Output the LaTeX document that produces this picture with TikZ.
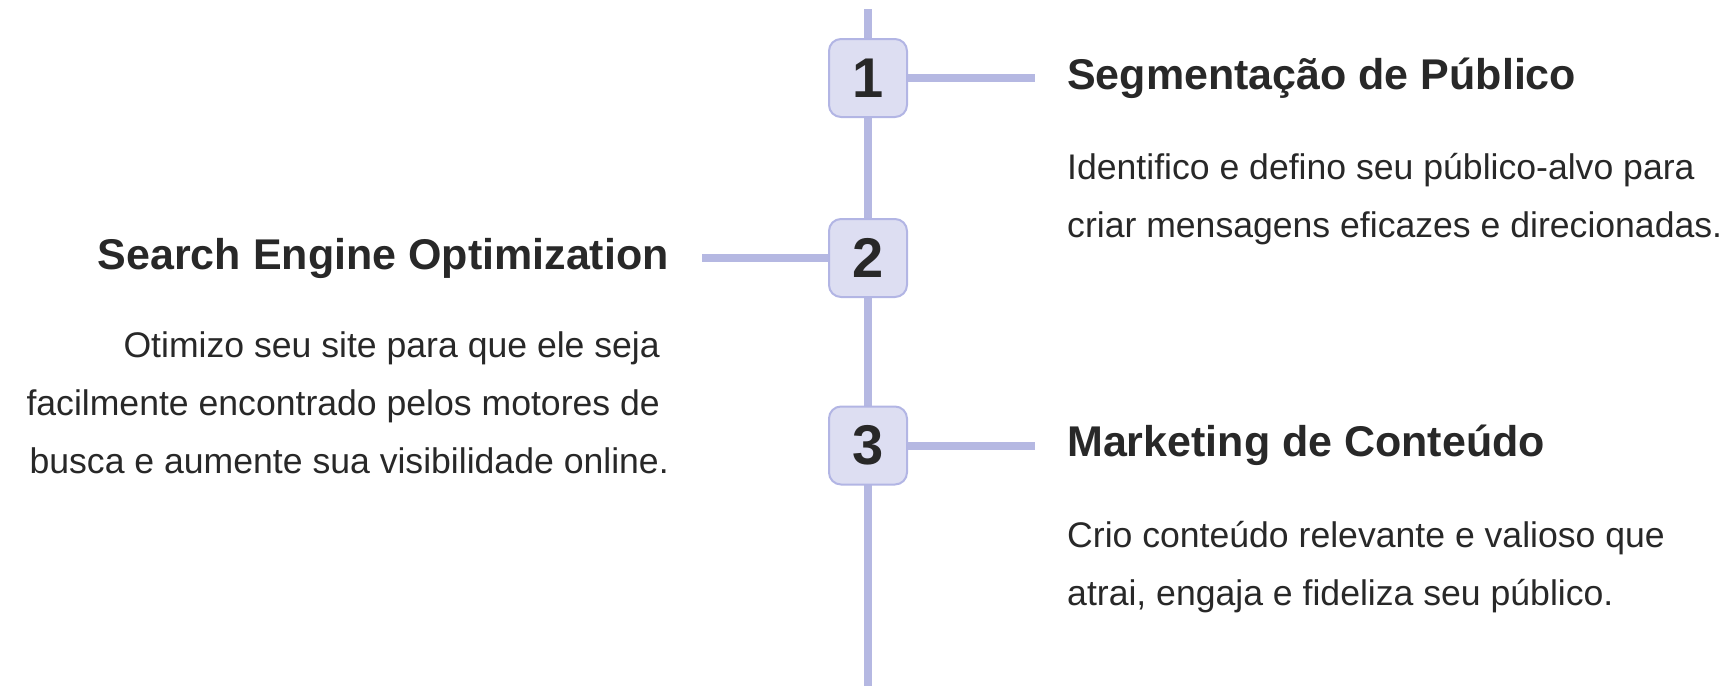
\documentclass[tikz,border=0pt]{standalone}
\usepackage{fontspec}
\setmainfont{Liberation Sans}
\definecolor{lineC}{RGB}{181,184,226}
\definecolor{boxF}{RGB}{221,222,242}
\definecolor{boxD}{RGB}{178,181,228}
\definecolor{txt}{RGB}{40,40,40}
\begin{document}
\begin{tikzpicture}[x=1pt,y=-1pt,
  conn/.style={draw=lineC, line width=8pt},
  numbox/.style={draw=boxD, fill=boxF, line width=2pt, rounded corners=12pt,
    minimum width=78pt, minimum height=78pt, inner sep=0pt,
    font=\fontsize{56}{56}\selectfont\bfseries, text=txt},
  title/.style={inner sep=0pt, font=\fontsize{43}{50}\selectfont\bfseries, text=txt},
  desc/.style={inner sep=0pt, font=\fontsize{35.6}{58}\selectfont, text=txt},
]
\useasboundingbox (0,0) rectangle (1725,686);
\coordinate (top) at (868,9);
\coordinate (bot) at (868,686);
\draw[conn] (top) -- (bot);
\node[numbox] (n1) at (868,78) {1};
\node[numbox] (n2) at (868,258) {2};
\node[numbox] (n3) at (868,445.5) {3};
\coordinate (e1) at (1035,78);
\coordinate (e2) at (702,258);
\coordinate (e3) at (1035,445.5);
\draw[conn] (n1.east) -- (e1);
\draw[conn] (n2.west) -- (e2);
\draw[conn] (n3.east) -- (e3);
\node[title, anchor=base west] (t1) at (1067,89) {Segmentação de Público};
\node[title, anchor=base east] (t2) at (669,269) {Search Engine Optimization};
\node[title, anchor=base west] (t3) at (1067,456) {Marketing de Conteúdo};
\node[desc, anchor=base west, align=left] (d1) at (1067,237)
  {Identifico e defino seu público-alvo para\\criar mensagens eficazes e direcionadas.};
\node[desc, anchor=base east, align=right] (d2) at (669,473)
  {Otimizo seu site para que ele seja\rule{9pt}{0pt}\\facilmente encontrado pelos motores de\rule{9pt}{0pt}\\busca e aumente sua visibilidade online.};
\node[desc, anchor=base west, align=left] (d3) at (1067,605)
  {Crio conteúdo relevante e valioso que\\atrai, engaja e fideliza seu público.};
\end{tikzpicture}
\end{document}
